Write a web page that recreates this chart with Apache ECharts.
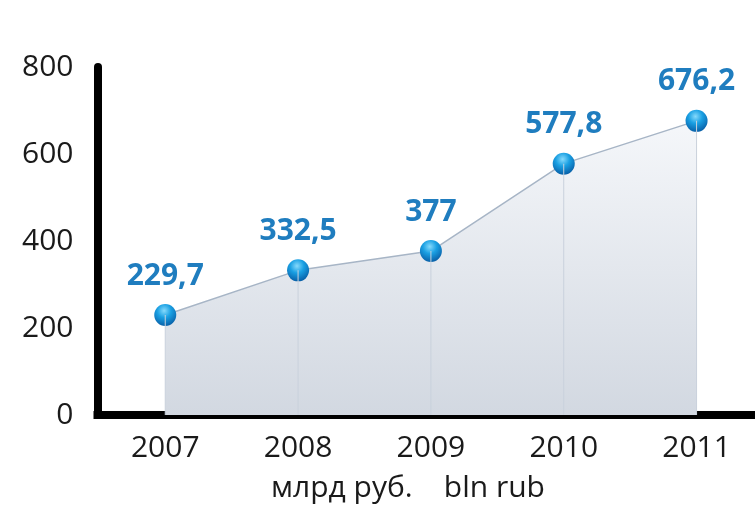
<!DOCTYPE html>
<html>
<head>
<meta charset="utf-8">
<script src="https://cdn.jsdelivr.net/npm/echarts@6/dist/echarts.min.js"></script>
<style>
html,body{margin:0;padding:0;background:#fff;}
#chart{width:755px;height:512px;}
</style>
</head>
<body>
<div id="chart"></div>
<script>
const categories = [2007, 2008, 2009, 2010, 2011];
const values = [229.7, 332.5, 377, 577.8, 676.2];
const yTicks = [0, 200, 400, 600, 800];
const unitText = 'млрд руб.    bln rub';

const FONT = '"Open Sans", "Noto Sans", sans-serif';
const points = categories.map((c, i) => [c, values[i]]);
const chart = echarts.init(document.getElementById('chart'), null, {renderer: 'canvas'});

chart.setOption({
  backgroundColor: '#ffffff',
  animation: false,
  title: {
    text: unitText,
    left: 266,
    top: 468,
    textStyle: {fontFamily: FONT, fontSize: 30, fontWeight: 'normal', color: '#1a1a1a'}
  },
  grid: {left: 97.5, right: 0, top: 67, bottom: 97, containLabel: false},
  xAxis: {
    type: 'value',
    min: 2006.49,
    max: 2011.44,
    axisLine: {show: true, lineStyle: {color: '#000', width: 8, cap: 'square'}},
    axisTick: {show: false},
    splitLine: {show: false},
    axisLabel: {
      fontFamily: FONT, fontSize: 30, color: '#1a1a1a', margin: 18,
      customValues: categories,
      formatter: function (v) { return String(v); }
    }
  },
  yAxis: {
    type: 'value',
    min: yTicks[0],
    max: yTicks[yTicks.length - 1],
    interval: 200,
    axisLine: {show: true, lineStyle: {color: '#000', width: 8}},
    axisTick: {show: false},
    splitLine: {show: false},
    axisLabel: {fontFamily: FONT, fontSize: 30, color: '#1a1a1a', margin: 24}
  },
  series: [
    {
      type: 'bar',
      data: points,
      barWidth: 1,
      silent: true,
      itemStyle: {color: '#c9d1dc'},
      z: 3
    },
    {
      type: 'line',
      data: points,
      symbol: 'circle',
      symbolSize: 22,
      lineStyle: {color: '#a7b5c6', width: 1.5},
      areaStyle: {
        color: new echarts.graphic.LinearGradient(0, 0, 0, 1, [
          {offset: 0, color: '#f5f7fa'},
          {offset: 1, color: '#d2d8e1'}
        ]),
        opacity: 1
      },
      itemStyle: {
        color: new echarts.graphic.RadialGradient(0.45, 0.3, 0.7, [
          {offset: 0, color: '#86dafc'},
          {offset: 0.45, color: '#1aa0e3'},
          {offset: 1, color: '#0860a8'}
        ]),
        borderWidth: 0
      },
      label: {
        show: true,
        position: 'top',
        distance: 13,
        fontFamily: FONT,
        fontSize: 30,
        fontWeight: 'bold',
        color: '#1f7dbf',
        formatter: function (p) { return String(p.value[1]).replace('.', ','); }
      },
      z: 2
    }
  ]
});
</script>
</body>
</html>
